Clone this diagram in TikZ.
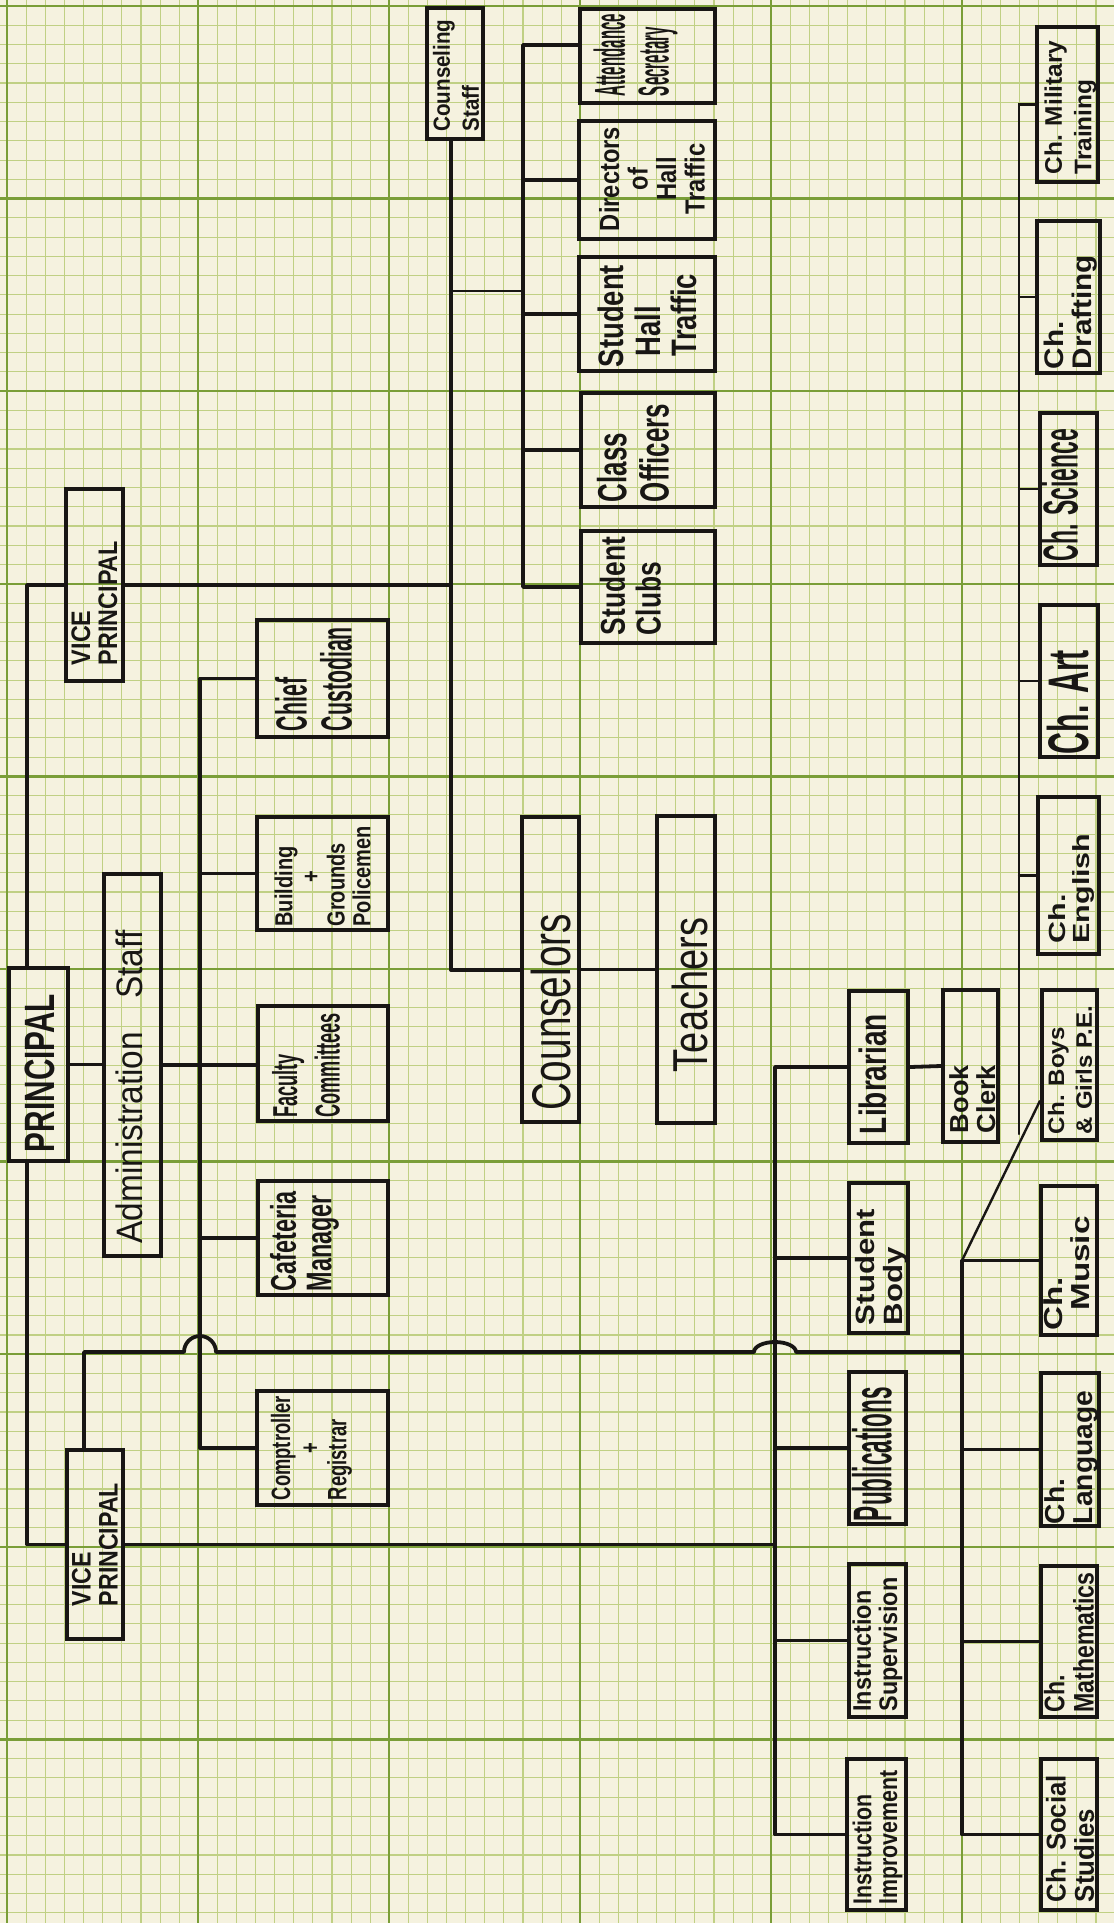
\documentclass[tikz,border=0pt]{standalone}
\usepackage{fontspec}
\setmainfont{Liberation Sans}
\usepackage{graphicx}
\usetikzlibrary{calc}

\definecolor{paper}{RGB}{245,242,223}
\definecolor{gridminor}{RGB}{192,208,132}
\definecolor{gridmajor}{RGB}{122,158,56}
\definecolor{ink}{RGB}{24,22,20}

\newcommand{\hw}[5]{\rotatebox{90}{\makebox[0pt][c]{\hspace*{-#4pt}\hspace*{-#4pt}\raisebox{\dimexpr(\depth-\height)/2-#3pt\relax}[0pt][0pt]{\resizebox*{#1pt}{#2pt}{\bfseries\shortstack[l]{#5}}}}}}

\begin{document}
\begin{tikzpicture}[x=1pt, y=-1pt,
  box/.style 2 args={draw=ink, line width=4.2pt, minimum width=#1pt, minimum height=#2pt,
                     inner sep=0pt, text=ink},
  wire/.style={draw=ink, line width=3.8pt, line cap=round, line join=round},
  thinwire/.style={draw=ink, line width=2.4pt, line cap=round},
  minor/.style={gridminor, line width=1.1pt},
  major/.style={gridmajor, line width=2.3pt},
]
  \fill[paper] (0,0) rectangle (1114,1923);
  \useasboundingbox (0,0) rectangle (1114,1923);
  \foreach \i in {0,...,57} \draw[minor] ({7.3+19.1*\i},0) -- ({7.3+19.1*\i},1923);
  \foreach \j in {0,...,99} \draw[minor] (0,{6+19.26*\j}) -- (1114,{6+19.26*\j});
  \foreach \i in {0,...,5} \draw[major] ({7.3+191*\i},0) -- ({7.3+191*\i},1923);
  \foreach \j in {0,...,9} \draw[major] (0,{6+192.6*\j}) -- (1114,{6+192.6*\j});

  \node[box={59}{193}] (prin) at (38.5,1064.5) {\hw{158}{30}{1.5}{8.5}{PRINCIPAL}};
  \node[box={57}{382}] (adm)  at (132.5,1065)  {\hw{313}{27}{-3}{22}{\mdseries Administration\hspace{1em}Staff}};
  \node[box={57}{192}] (vpa)  at (94.5,585)    {\hw{124}{46}{0}{18}{VICE\\PRINCIPAL}};
  \node[box={56}{189}] (vpb)  at (95,1544.5)   {\hw{123}{46}{0}{0}{VICE\\PRINCIPAL}};
  \node[box={56}{131}] (cs)   at (455,73.5)    {\hw{112}{46}{1}{2}{Counseling\\Staff}};

  \node[box={131}{117}] (chi) at (322.5,678.5) {\hw{104}{77}{-9}{0.5}{Chief\\Custodian}};
  \node[box={131}{113}] (bld) at (322.5,873.5) {\hw{100}{96}{0}{3}{Building\\\hfill+\hfill\null\\Grounds\\Policemen}};
  \node[box={130}{115}] (fac) at (323,1063.5)  {\hw{104}{68}{-17}{2}{Faculty\\Committees}};
  \node[box={130}{114}] (caf) at (323,1238)    {\hw{100}{69}{-18.5}{3}{Cafeteria\\Manager}};
  \node[box={131}{114}] (com) at (322.5,1448)  {\hw{104}{81}{-11}{0}{Comptroller\\\hfill+\hfill\null\\Registrar}};

  \node[box={57}{305}] (cou) at (550.5,969.5) {\hw{196}{40}{0.5}{42.5}{\mdseries Counselors}};
  \node[box={58}{307}] (tea) at (686,969.5)   {\hw{154}{36}{4}{25.5}{\mdseries Teachers}};

  \node[box={135}{94}]  (att) at (647.5,56) {\hw{82}{84}{-12}{-1}{Attendance\\Secretary}};
  \node[box={136}{118}] (dir) at (647,180)  {\hw{104}{106}{5}{-1}{Directors\\\hfill of\hfill\null\\\hfill Hall\hfill\null\\\hfill Traffic\hfill\null}};
  \node[box={136}{114}] (sht) at (647,314)  {\hw{102}{99}{0.5}{2}{Student\\\hspace*{0.4em}Hall\\\hspace*{0.4em}Traffic}};
  \node[box={134}{114}] (co)  at (648,450)  {\hw{98}{72}{-15}{3}{Class\\Officers}};
  \node[box={134}{112}] (sc)  at (648,587)  {\hw{98}{61}{-17.5}{-1}{Student\\Clubs}};

  \node[box={59}{152}] (lib)  at (878.5,1067)   {\hw{120}{28}{-6}{7}{Librarian}};
  \node[box={55}{152}] (bc)   at (970.5,1066)   {\hw{68}{46}{2}{33}{Book\\Clerk}};
  \node[box={59}{150}] (sb)   at (878.5,1258)   {\hw{116}{52}{3}{9}{Student\\Body}};
  \node[box={57}{152}] (pub)  at (877.5,1448)   {\hw{134}{40}{-5.5}{6}{Publications}};
  \node[box={57}{153}] (isup) at (877.5,1640.5) {\hw{134}{50}{0}{4}{Instruction\\Supervision}};
  \node[box={59}{151}] (iimp) at (876.5,1834.5) {\hw{134}{50}{1}{3}{Instruction\\Improvement}};

  \node[box={61}{155}] (cmil) at (1067.5,104.5) {\hw{134}{52}{3}{3}{Ch. Military\\Training}};
  \node[box={63}{152}] (cdr)  at (1068.5,297)   {\hw{114}{53}{2}{15}{Ch.\\Drafting}};
  \node[box={57}{152}] (csci) at (1068.5,489)   {\hw{132}{36}{-8.5}{6}{Ch. Science}};
  \node[box={58}{152}] (cart) at (1069,681)     {\hw{104}{42}{-1}{21}{Ch. Art}};
  \node[box={61}{157}] (ceng) at (1068.5,875.5) {\hw{110}{46}{3}{13}{Ch.\\English}};
  \node[box={55}{150}] (cpe)  at (1069.5,1065)  {\hw{128}{44}{0.5}{5}{Ch. Boys\\\& Girls P.E.}};
  \node[box={56}{149}] (cmus) at (1069,1260.5)  {\hw{114}{46}{-2.5}{13}{Ch.\\\hspace*{0.6em}Music}};
  \node[box={58}{153}] (clan) at (1070,1449.5)  {\hw{133}{53}{1.5}{8}{Ch.\\Language}};
  \node[box={56}{151}] (cmat) at (1069,1641.5)  {\hw{140}{50}{0}{1}{Ch.\\Mathematics}};
  \node[box={56}{151}] (csoc) at (1069,1834.5)  {\hw{127}{48}{1}{4}{Ch. Social\\Studies}};

  \coordinate (spA) at (27,585);
  \coordinate (spB) at (27,1544.5);
  \coordinate (csv) at (451,970);
  \coordinate (brA) at (451,291);
  \coordinate (brB) at (523,291);
  \coordinate (saT) at (523,45);
  \coordinate (saB) at (523,587);
  \coordinate (adT) at (200,678.5);
  \coordinate (adB) at (200,1448);
  \coordinate (hpA) at (84,1352);
  \coordinate (hpB) at (962,1352);
  \coordinate (inT) at (775,1067);
  \coordinate (inB) at (775,1834.5);
  \coordinate (chT) at (1019,104.5);
  \coordinate (chB) at (1019,1134);
  \coordinate (clT) at (962,1260.5);
  \coordinate (clB) at (962,1834.5);

  \draw[wire] (vpa.west) -- (spA) -- (spA |- prin.north);
  \draw[wire] (spA |- prin.south) -- (spB) -- (vpb.west);
  \draw[wire] (prin.east) -- (adm.west |- prin.east);
  \draw[wire] (adm.east) -- (fac.west |- adm.east);

  \draw[wire] (vpa.east) -- (csv |- vpa.east);
  \draw[wire] (csv |- cs.south) -- (csv) -- (cou.west |- csv);
  \draw[wire] (cou.east) -- (tea.west);
  \draw[thinwire] (brA) -- (brB);
  \draw[wire] (att.west |- saT) -- (saT) -- (saB) -- (sc.west);
  \foreach \b in {dir,sht,co} \draw[wire] (saT |- \b.west) -- (\b.west);

  \draw[wire] (chi.west) -- (adT) -- (adB) -- (com.west);
  \foreach \b in {bld,caf} \draw[wire] (adT |- \b.west) -- (\b.west);

  \draw[wire] (hpA |- vpb.north) -- (hpA) -- ($(adT |- hpA)+(-16,0)$)
    arc[start angle=180, end angle=360, radius=16]
    -- ($(inT |- hpA)+(-21,0)$)
    arc[start angle=180, end angle=360, x radius=21, y radius=10] -- (hpB);

  \draw[wire] (vpb.east) -- (inT |- vpb.east);
  \draw[wire] (lib.west) -- (inT) -- (inB) -- (iimp.west);
  \foreach \b in {sb,pub,isup} \draw[wire] (inT |- \b.west) -- (\b.west);
  \draw[wire] (lib.east) -- (bc.west);

  \draw[wire] (cmus.west) -- (clT) -- (clB) -- (csoc.west);
  \foreach \b in {clan,cmat} \draw[wire] (clT |- \b.west) -- (\b.west);
  \draw[thinwire] (clT) -- ([yshift=-36pt]cpe.west);

  \draw[thinwire] (cmil.west) -- (chT) -- (chB);
  \foreach \b in {cdr,csci,cart,ceng} \draw[thinwire] (chT |- \b.west) -- (\b.west);
\end{tikzpicture}
\end{document}
